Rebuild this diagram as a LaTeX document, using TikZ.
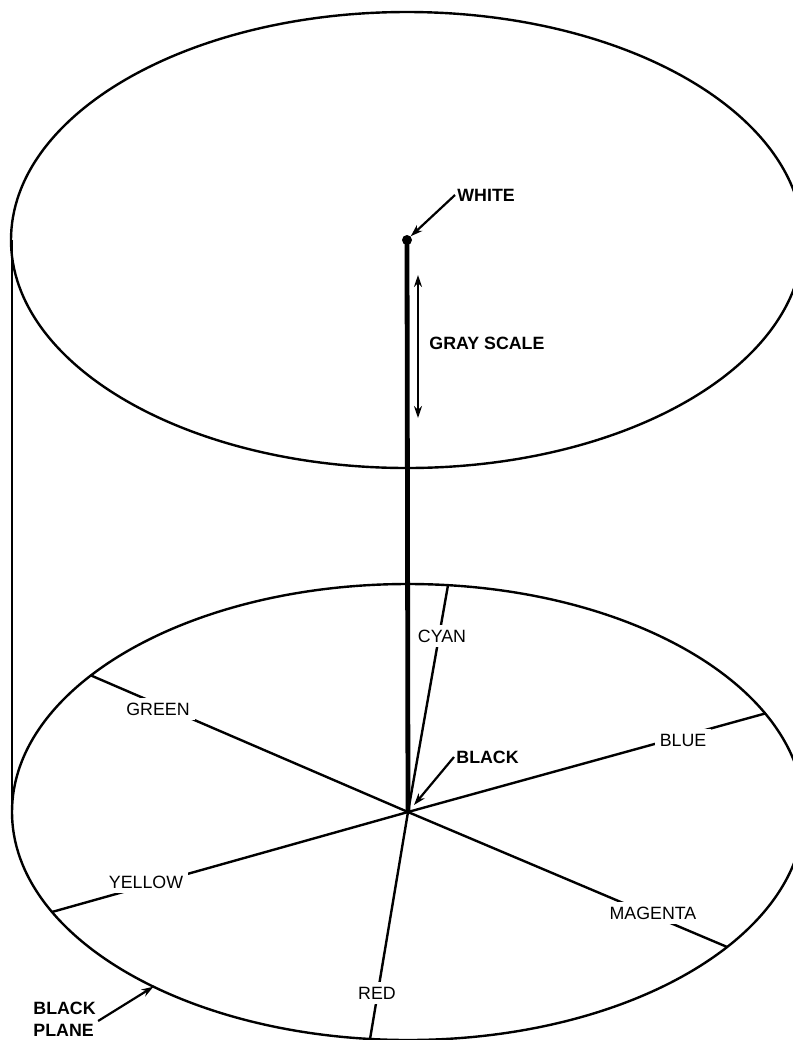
\documentclass[tikz,border=0pt]{standalone}
\usepackage{fontspec}
\setmainfont{Liberation Sans}
\usetikzlibrary{arrows.meta}

\begin{document}
\begin{tikzpicture}[x=0.5pt,y=-0.5pt,>={Stealth[length=6pt,width=4pt]},
  rim/.style={line width=1.2pt},
  spoke/.style={line width=1.2pt},
  colorlbl/.style={fill=white,inner sep=2.5pt,font=\fontsize{8.9}{10}\selectfont},
  boldlbl/.style={inner sep=1pt,font=\fontsize{8.9}{11}\selectfont\bfseries}]
\clip (0,0) rectangle (793,1040);
\fill[white] (0,0) rectangle (793,1040);
\coordinate (top) at (407,240);
\coordinate (bot) at (408,812);
\coordinate (topleft) at (12,240);
\coordinate (botleft) at (12,812);
% cylinder
\draw[rim] (top) ellipse [x radius=198pt, y radius=114pt];
\draw[line width=1pt] (topleft) -- (botleft);
\draw[rim] (bot) ellipse [x radius=198pt, y radius=114pt];
% hue spokes on the black plane
\foreach \ang in {84.2,143.2,25.6,206,323.7,264.5}
  \draw[spoke] (bot) -- ++(\ang:198pt and 114pt);
\node[colorlbl] (cyan) at (442,636) {CYAN};
\node[colorlbl] (green) at (158,709) {GREEN};
\node[colorlbl] (blue) at (683,740) {BLUE};
\node[colorlbl] (yellow) at (146,882) {YELLOW};
\node[colorlbl] (magenta) at (653,913) {MAGENTA};
\node[colorlbl] (red) at (377,993) {RED};
% gray axis
\node[circle,fill,inner sep=0pt,minimum size=5pt] (wdot) at (top) {};
\draw[line width=2.4pt] (wdot.center) -- (bot);
\node[boldlbl,anchor=west] (wlab) at (455,195) {WHITE};
\draw[->,line width=1.1pt] (wlab.west) -- (wdot.north east);
\coordinate (gs1) at (418,275);
\coordinate (gs2) at (418,418);
\draw[<->,line width=1pt] (gs1) -- (gs2);
\node[boldlbl,anchor=west] (gslab) at (427,343) {GRAY SCALE};
\node[boldlbl,anchor=west] (blab) at (454,757) {BLACK};
\draw[->,line width=1.1pt] (blab.west) -- ([xshift=3pt,yshift=3.5pt]bot);
% black plane
\path (bot) ++(230:198pt and 114pt) coordinate (rimpt);
\node[boldlbl,align=left,anchor=west] (plab) at (31,1019) {BLACK\\PLANE};
\draw[->,line width=1.1pt] ([yshift=-1pt]plab.east) -- (rimpt);
\end{tikzpicture}
\end{document}
